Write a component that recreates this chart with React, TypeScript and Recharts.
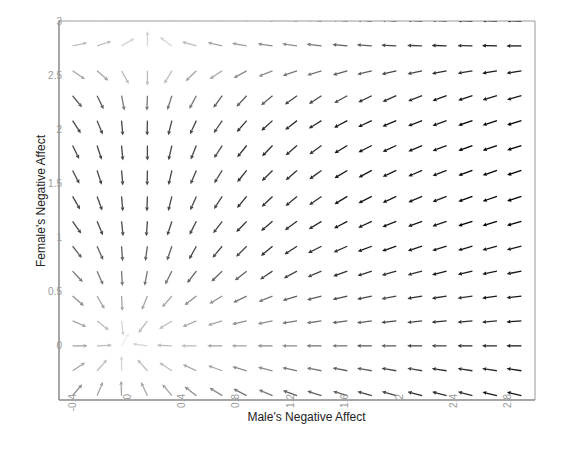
import { ScatterChart, Scatter, XAxis, YAxis, ReferenceLine, Label } from "recharts"

// grid of arrow tails (data units)
const X_GRID = [-0.4, -0.22, -0.04, 0.15, 0.33, 0.51, 0.7, 0.88, 1.07, 1.25, 1.43, 1.62, 1.8, 1.98, 2.17, 2.35, 2.54, 2.72, 2.9]
const Y_GRID = [3.0, 2.77, 2.54, 2.31, 2.08, 1.85, 1.62, 1.38, 1.15, 0.92, 0.69, 0.46, 0.23, 0, -0.23, -0.46]

// arrow direction in degrees (0 = right, 90 = up), one row per Y_GRID value
const ANGLES = [
  [40, 55, 75, 90, 130, 150, 160, 165, 168, 172, 174, 175, 176, 176, 177, 177, 178, 178, 178],
  [12, 18, 30, 90, 144, 164, 167, 170, 172, 172, 173, 175, 176, 177, 178, 178, 179, 179, 180],
  [-34, -41, -61, -90, -121, -136, -147, -151, -158, -161, -163, -164, -166, -167, -168, -169, -170, -170, -171],
  [-51, -64, -79, -92, -108, -118, -126, -133, -140, -144, -147, -151, -154, -156, -159, -160, -162, -163, -164],
  [-57, -68, -85, -91, -104, -115, -124, -131, -138, -142, -148, -152, -155, -157, -159, -160, -161, -162, -163],
  [-64, -72, -85, -90, -103, -112, -123, -129, -134, -139, -144, -149, -153, -155, -157, -159, -160, -161, -162],
  [-63, -72, -85, -91, -103, -113, -122, -129, -135, -139, -144, -149, -152, -155, -157, -159, -160, -161, -162],
  [-60, -70, -85, -92, -104, -114, -123, -130, -136, -140, -145, -149, -153, -155, -157, -159, -160, -161, -162],
  [-55, -67, -84, -94, -108, -117, -127, -134, -140, -144, -148, -152, -155, -158, -160, -161, -162, -163, -164],
  [-52, -66, -86, -98, -109, -119, -130, -135, -140, -147, -153, -156, -159, -161, -162, -163, -164, -165, -166],
  [-47, -66, -87, -101, -117, -128, -136, -142, -146, -152, -157, -160, -162, -164, -165, -166, -167, -168, -169],
  [-41, -60, -87, -112, -131, -142, -149, -154, -158, -163, -165, -167, -168, -169, -170, -171, -172, -172, -173],
  [-23, -38, -83, -127, -148, -157, -163, -167, -169, -171, -172, -173, -173, -174, -174, -175, -175, -175, -176],
  [0, 3, 60, 172, 178, 180, 180, 180, 180, 180, 180, 180, 180, 180, 180, 180, 180, 180, 180],
  [33, 48, 90, 132, 147, 155, 160, 164, 166, 168, 169, 169, 170, 170, 170, 171, 171, 171, 171],
  [50, 67, 92, 115, 130, 142, 148, 153, 157, 160, 162, 163, 164, 164, 165, 165, 165, 166, 166],
]

// darkness of each arrow, 0 = almost white, 10 = black
const INK = [
  [1, 1, 1, 1, 2, 2, 3, 3, 4, 4, 5, 5, 6, 6, 7, 7, 8, 8, 9],
  [2, 2, 1, 1, 1, 2, 3, 3, 4, 4, 5, 6, 6, 7, 7, 8, 8, 9, 9],
  [3, 3, 2, 2, 2, 3, 3, 4, 4, 5, 5, 6, 6, 7, 7, 8, 8, 9, 9],
  [6, 6, 5, 5, 5, 5, 6, 6, 6, 7, 7, 7, 8, 8, 8, 9, 9, 9, 9],
  [7, 7, 7, 7, 7, 7, 7, 8, 8, 8, 8, 9, 9, 9, 9, 9, 10, 10, 10],
  [7, 7, 7, 7, 7, 7, 7, 8, 8, 8, 8, 9, 9, 9, 9, 9, 10, 10, 10],
  [7, 7, 7, 7, 7, 7, 7, 8, 8, 8, 8, 9, 9, 9, 9, 9, 10, 10, 10],
  [7, 7, 7, 7, 7, 7, 7, 8, 8, 8, 8, 9, 9, 9, 9, 9, 10, 10, 10],
  [7, 7, 7, 7, 7, 7, 7, 8, 8, 8, 8, 9, 9, 9, 9, 9, 10, 10, 10],
  [6, 6, 6, 6, 6, 7, 7, 7, 8, 8, 8, 8, 9, 9, 9, 9, 9, 9, 9],
  [5, 5, 5, 5, 5, 6, 6, 6, 7, 7, 7, 8, 8, 8, 8, 9, 9, 9, 9],
  [4, 3, 3, 3, 3, 4, 4, 5, 5, 6, 6, 7, 7, 7, 8, 8, 8, 9, 9],
  [3, 2, 1, 2, 2, 3, 3, 4, 4, 5, 5, 6, 6, 7, 7, 8, 8, 8, 9],
  [3, 2, 0, 1, 2, 2, 3, 3, 4, 4, 5, 5, 6, 6, 7, 7, 8, 8, 9],
  [3, 2, 1, 2, 2, 3, 3, 4, 4, 5, 5, 6, 6, 7, 7, 8, 8, 8, 9],
  [4, 3, 3, 3, 3, 4, 4, 5, 5, 6, 6, 6, 7, 7, 8, 8, 8, 9, 9],
]

const X_TICKS = [-0.4, 0, 0.4, 0.8, 1.2, 1.6, 2, 2.4, 2.8]
const Y_TICKS = [0, 0.5, 1, 1.5, 2, 2.5, 3]

const points = Y_GRID.flatMap((y, r) =>
  X_GRID.map((x, c) => ({ x, y, ang: ANGLES[r][c], ink: INK[r][c] }))
)

const FONT = "'Liberation Sans', Arial, sans-serif"
const ARROW_LEN = 15

function Arrow(props: any) {
  const { cx, cy, payload } = props
  if (cx == null || cy == null) return null
  const a = (payload.ang * Math.PI) / 180
  const ux = Math.cos(a)
  const uy = -Math.sin(a)
  const ex = cx + ARROW_LEN * ux
  const ey = cy + ARROW_LEN * uy
  const hl = 4
  const hw = 1.9
  const bx = ex - ux * hl
  const by = ey - uy * hl
  const g = Math.round(235 - payload.ink * 23.5)
  const color = `rgb(${g},${g},${g})`
  const head = `${ex},${ey} ${bx - uy * hw},${by + ux * hw} ${bx + uy * hw},${by - ux * hw}`
  return (
    <g>
      <line x1={cx} y1={cy} x2={bx} y2={by} stroke={color} strokeWidth={1.3} />
      <polygon points={head} fill={color} />
    </g>
  )
}

function XTick({ x, y, payload }: any) {
  const ty = y - 6
  return (
    <text
      x={x}
      y={ty}
      transform={`rotate(-90, ${x}, ${ty})`}
      textAnchor="end"
      dominantBaseline="central"
      fontSize={10}
      fontFamily={FONT}
      fill="#999"
    >
      {payload.value}
    </text>
  )
}

function YTick({ x, y, payload }: any) {
  return (
    <text x={x + 3} y={y} textAnchor="end" dominantBaseline="central" fontSize={10} fontFamily={FONT} fill="#999">
      {payload.value}
    </text>
  )
}

export default function App() {
  return (
    <div style={{ width: 550, height: 440 }}>
      <ScatterChart width={550} height={440} margin={{ top: 13, right: 23, left: 11, bottom: 8 }}>
        <XAxis
          type="number"
          dataKey="x"
          domain={[-0.5, 3]}
          ticks={X_TICKS}
          interval={0}
          allowDataOverflow
          height={40}
          tickSize={0}
          tickMargin={0}
          tickLine={false}
          tick={<XTick />}
          axisLine={{ stroke: "#888", strokeWidth: 1.5 }}
        >
          <Label
            content={({ viewBox }: any) => (
              <text
                x={viewBox.x + viewBox.width / 2 + 9.5}
                y={viewBox.y + 17}
                textAnchor="middle"
                dominantBaseline="central"
                fontSize={12}
                fontFamily={FONT}
                fill="#222"
              >
                Male's Negative Affect
              </text>
            )}
          />
        </XAxis>
        <YAxis
          type="number"
          dataKey="y"
          domain={[-0.5, 3]}
          ticks={Y_TICKS}
          interval={0}
          allowDataOverflow
          width={40}
          tickSize={0}
          tickMargin={0}
          tickLine={false}
          tick={<YTick />}
          axisLine={{ stroke: "#888", strokeWidth: 1.5 }}
        >
          <Label
            content={({ viewBox }: any) => {
              const lx = viewBox.x + 22
              const ly = viewBox.y + viewBox.height / 2 - 9.5
              return (
                <text
                  x={lx}
                  y={ly}
                  transform={`rotate(-90, ${lx}, ${ly})`}
                  textAnchor="middle"
                  dominantBaseline="central"
                  fontSize={12}
                  fontFamily={FONT}
                  fill="#222"
                >
                  Female's Negative Affect
                </text>
              )
            }}
          />
        </YAxis>
        <ReferenceLine y={3} stroke="#999" strokeWidth={1} />
        <ReferenceLine x={3} stroke="#999" strokeWidth={1} />
        <Scatter data={points} shape={(p: any) => <Arrow {...p} />} isAnimationActive={false} />
      </ScatterChart>
    </div>
  )
}
